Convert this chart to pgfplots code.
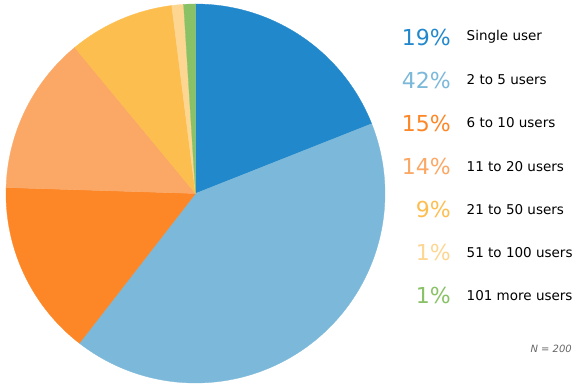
\documentclass[border=0pt]{standalone}
\usepackage{fontspec}
\setmainfont{DejaVu Sans}
\usepackage{pgfplots}
\pgfplotsset{compat=1.18}
\definecolor{cA}{RGB}{33,136,204}
\definecolor{cB}{RGB}{123,184,217}
\definecolor{cC}{RGB}{253,134,38}
\definecolor{cD}{RGB}{251,167,101}
\definecolor{cE}{RGB}{253,190,80}
\definecolor{cF}{RGB}{253,214,146}
\definecolor{cG}{RGB}{137,193,102}
% shares (percent of N = 200)
\def\vA{19}\def\vB{41.5}\def\vC{15}\def\vD{13.5}\def\vE{9}\def\vF{1}\def\vG{1}
\pgfmathsetmacro\aA{90}
\pgfmathsetmacro\aB{\aA-3.6*\vA}
\pgfmathsetmacro\aC{\aB-3.6*\vB}
\pgfmathsetmacro\aD{\aC-3.6*\vC}
\pgfmathsetmacro\aE{\aD-3.6*\vD}
\pgfmathsetmacro\aF{\aE-3.6*\vE}
\pgfmathsetmacro\aG{\aF-3.6*\vF}
\pgfmathsetmacro\aH{\aG-3.6*\vG}
\def\cx{195.5}\def\cy{194.5}\def\R{189.5}
\newcommand\pct[1]{\fontsize{22}{22}\selectfont #1}
\newcommand\lab[1]{\fontsize{13.5}{13.5}\selectfont #1}
\begin{document}
\begin{tikzpicture}
\begin{axis}[
  scale only axis, width=585pt, height=388pt,
  xmin=0, xmax=585, ymin=0, ymax=388,
  hide axis, clip=false,
]
\path (rel axis cs:0,0) rectangle (rel axis cs:1,1);
\addplot[fill=cA, draw=cA, line width=0.3pt, domain=\aA:\aB, samples=60, variable=\t] ({\cx+\R*cos(\t)},{\cy+\R*sin(\t)}) -- (axis cs:\cx,\cy) -- cycle;
\addplot[fill=cB, draw=cB, line width=0.3pt, domain=\aB:\aC, samples=120, variable=\t] ({\cx+\R*cos(\t)},{\cy+\R*sin(\t)}) -- (axis cs:\cx,\cy) -- cycle;
\addplot[fill=cC, draw=cC, line width=0.3pt, domain=\aC:\aD, samples=60, variable=\t] ({\cx+\R*cos(\t)},{\cy+\R*sin(\t)}) -- (axis cs:\cx,\cy) -- cycle;
\addplot[fill=cD, draw=cD, line width=0.3pt, domain=\aD:\aE, samples=60, variable=\t] ({\cx+\R*cos(\t)},{\cy+\R*sin(\t)}) -- (axis cs:\cx,\cy) -- cycle;
\addplot[fill=cE, draw=cE, line width=0.3pt, domain=\aE:\aF, samples=40, variable=\t] ({\cx+\R*cos(\t)},{\cy+\R*sin(\t)}) -- (axis cs:\cx,\cy) -- cycle;
\addplot[fill=cF, draw=cF, line width=0.3pt, domain=\aF:\aG, samples=10, variable=\t] ({\cx+\R*cos(\t)},{\cy+\R*sin(\t)}) -- (axis cs:\cx,\cy) -- cycle;
\addplot[fill=cG, draw=cG, line width=0.3pt, domain=\aG:\aH, samples=10, variable=\t] ({\cx+\R*cos(\t)},{\cy+\R*sin(\t)}) -- (axis cs:\cx,\cy) -- cycle;
% legend
\node[anchor=east, text=cA, inner sep=0pt] at (axis cs:451,351) {\pct{19\%}};
\node[anchor=east, text=cB, inner sep=0pt] at (axis cs:451,308) {\pct{42\%}};
\node[anchor=east, text=cC, inner sep=0pt] at (axis cs:451,265) {\pct{15\%}};
\node[anchor=east, text=cD, inner sep=0pt] at (axis cs:451,221.5) {\pct{14\%}};
\node[anchor=east, text=cE, inner sep=0pt] at (axis cs:451,178.5) {\pct{9\%}};
\node[anchor=east, text=cF, inner sep=0pt] at (axis cs:451,135.5) {\pct{1\%}};
\node[anchor=east, text=cG, inner sep=0pt] at (axis cs:451,92.5) {\pct{1\%}};
\node[anchor=west, inner sep=0pt] at (axis cs:466.5,351) {\lab{Single user}};
\node[anchor=west, inner sep=0pt] at (axis cs:466.5,308) {\lab{2 to 5 users}};
\node[anchor=west, inner sep=0pt] at (axis cs:466.5,265) {\lab{6 to 10 users}};
\node[anchor=west, inner sep=0pt] at (axis cs:466.5,221.5) {\lab{11 to 20 users}};
\node[anchor=west, inner sep=0pt] at (axis cs:466.5,178.5) {\lab{21 to 50 users}};
\node[anchor=west, inner sep=0pt] at (axis cs:466.5,135.5) {\lab{51 to 100 users}};
\node[anchor=west, inner sep=0pt] at (axis cs:466.5,92.5) {\lab{101 more users}};
\node[anchor=east, inner sep=0pt, text=black!60] at (axis cs:572,39.5) {\fontsize{10}{10}\selectfont\itshape N = 200};
\end{axis}
\end{tikzpicture}
\end{document}
